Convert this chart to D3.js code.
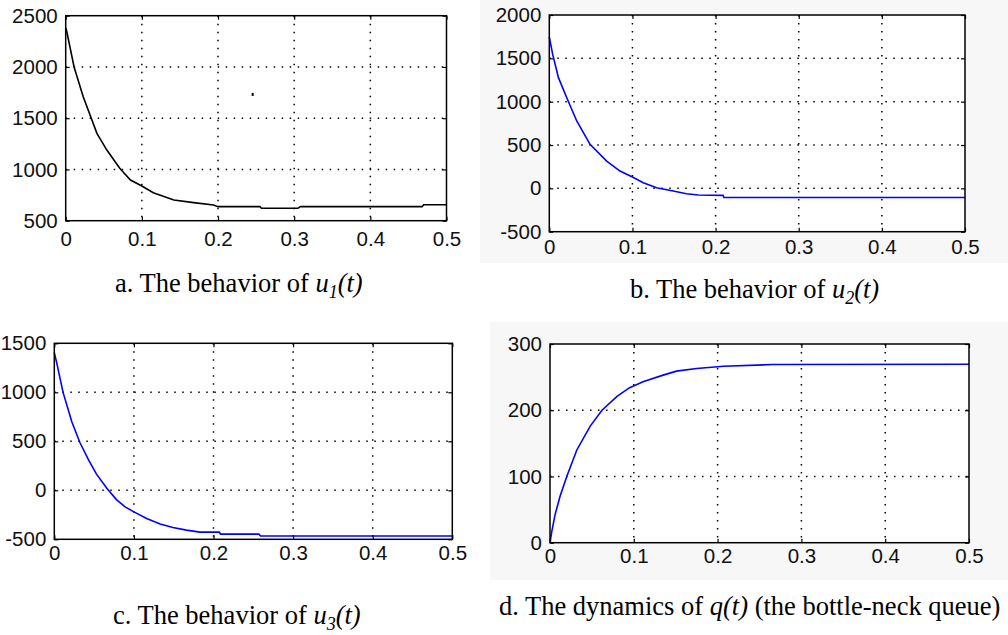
<!DOCTYPE html>
<meta charset="utf-8">
<title>Controller behaviour</title>
<style>
    body {
        margin: 0;
        background: #fff;
    }

    .axis text {
        font-family: "Liberation Sans", Arial, sans-serif;
        font-size: 20.5px;
        fill: #111;
    }

    .axis path {
        display: none;
    }

    .axis line {
        stroke: #000;
        stroke-width: 1.2;
    }

    .grid line {
        stroke: #000;
        stroke-width: 1.5;
        stroke-dasharray: 1.5, 6.5;
    }

    .caption {
        font-family: "Liberation Serif", "Times New Roman", serif;
        font-size: 26.5px;
        fill: #000;
    }
</style>

<body>
    <div id="fig"></div>
    <script src="https://d3js.org/d3.v7.min.js"></script>

    <script>
        // time ticks shared by all four panels
        var tTicks = [0, 0.1, 0.2, 0.3, 0.4, 0.5];

        // a. u1(t)
        var u1Ticks = [500, 1000, 1500, 2000, 2500];
        var u1Time = [0, 0.001, 0.011, 0.023, 0.041, 0.054, 0.071, 0.085, 0.1, 0.115, 0.142, 0.168, 0.194, 0.2, 0.255, 0.257, 0.305, 0.308, 0.468, 0.47, 0.5];
        var u1Vals = [2380, 2360, 2000, 1709, 1352, 1189, 1011, 897, 838, 773, 702, 676, 653, 637, 637, 621, 621, 637, 637, 655, 655];
        var strayDot = [0.2455, 1732];

        // b. u2(t)
        var u2Ticks = [-500, 0, 500, 1000, 1500, 2000];
        var u2Time = [0, 0.004, 0.011, 0.021, 0.033, 0.049, 0.069, 0.085, 0.1, 0.113, 0.129, 0.149, 0.165, 0.179, 0.209, 0.21, 0.5];
        var u2Vals = [1747, 1548, 1277, 1046, 777, 508, 315, 200, 131, 65, 7, -31, -62, -77, -81, -105, -105];

        // c. u3(t)
        var u3Ticks = [-500, 0, 500, 1000, 1500];
        var u3Time = [0, 0.003, 0.011, 0.022, 0.032, 0.043, 0.053, 0.066, 0.078, 0.089, 0.1, 0.116, 0.133, 0.149, 0.166, 0.183, 0.207, 0.209, 0.257, 0.259, 0.5];
        var u3Vals = [1405, 1303, 999, 700, 490, 310, 165, 20, -95, -169, -220, -288, -345, -380, -406, -427, -427, -447, -447, -467, -467];

        // d. q(t)
        var qTicks = [0, 100, 200, 300];
        var qTime = [0, 0.002, 0.006, 0.012, 0.02, 0.032, 0.048, 0.062, 0.08, 0.095, 0.111, 0.135, 0.151, 0.175, 0.207, 0.266, 0.5];
        var qVals = [0, 16, 42, 70, 100, 140, 176, 200, 221, 234, 243, 253, 259, 263, 266.5, 269, 269.5];

        var width = 1008,
            height = 635;

        var svg = d3.select('#fig')
            .append("svg")
            .attr("width", width)
            .attr("height", height);

        // light grey figure backgrounds behind b and d
        svg.append("rect").attr("x", 480).attr("y", 0).attr("width", 528).attr("height", 263).style("fill", "#f7f7f7");
        svg.append("rect").attr("x", 490).attr("y", 322).attr("width", 518).attr("height", 258).style("fill", "#f7f7f7");

        var panels = [
            { box: [65.7, 15.7, 446.5, 220.7], yTicks: u1Ticks, time: u1Time, vals: u1Vals, color: "#000", labelGap: 11 },
            { box: [549.3, 15, 965, 231.7], yTicks: u2Ticks, time: u2Time, vals: u2Vals, color: "#0000ff", labelGap: 8 },
            { box: [54.3, 343.3, 452.3, 539.3], yTicks: u3Ticks, time: u3Time, vals: u3Vals, color: "#0000ff", labelGap: 6 },
            { box: [550, 344, 969, 542.7], yTicks: qTicks, time: qTime, vals: qVals, color: "#0000ff", labelGap: 6 }
        ];

        panels.forEach(function(p, i) {
            var x0 = p.box[0], y0 = p.box[1], x1 = p.box[2], y1 = p.box[3];
            var w = x1 - x0, h = y1 - y0;

            var x = d3.scaleLinear().domain([0, 0.5]).range([0, w]);
            var y = d3.scaleLinear().domain(d3.extent(p.yTicks)).range([h, 0]);

            var g = svg.append("g").attr("transform", `translate(${x0},${y0})`);

            g.append("rect").attr("width", w).attr("height", h).style("fill", "#fff");

            // dotted grid at the inner ticks
            var grid = g.append("g").attr("class", "grid");
            grid.selectAll(".gx")
                .data(tTicks.slice(1, -1))
                .enter().append("line")
                .attr("x1", d => x(d)).attr("x2", d => x(d))
                .attr("y1", 0).attr("y2", h);
            grid.selectAll(".gy")
                .data(p.yTicks.slice(1, -1))
                .enter().append("line")
                .attr("y1", d => y(d)).attr("y2", d => y(d))
                .attr("x1", 0).attr("x2", w);

            // inward ticks on all four sides, plain hyphen for negatives
            g.append("g").attr("class", "axis")
                .attr("transform", `translate(0,${h})`)
                .call(d3.axisBottom(x).tickValues(tTicks).tickSize(-4).tickPadding(p.labelGap).tickFormat(d => String(d)));
            g.append("g").attr("class", "axis")
                .call(d3.axisLeft(y).tickValues(p.yTicks).tickSize(-4).tickPadding(8).tickFormat(d => String(d)));
            g.append("g").attr("class", "axis")
                .call(d3.axisTop(x).tickValues(tTicks).tickSize(-4).tickFormat(""));
            g.append("g").attr("class", "axis")
                .attr("transform", `translate(${w},0)`)
                .call(d3.axisRight(y).tickValues(p.yTicks).tickSize(-4).tickFormat(""));

            // the signal
            var line = d3.line()
                .x((d, j) => x(p.time[j]))
                .y(d => y(d));
            g.append("path")
                .datum(p.vals)
                .attr("d", line)
                .style("fill", "none")
                .style("stroke", p.color)
                .style("stroke-width", 1.6);

            if (i === 0) {
                g.append("rect")
                    .attr("x", x(strayDot[0]) - 1)
                    .attr("y", y(strayDot[1]) - 1.5)
                    .attr("width", 2).attr("height", 3)
                    .style("fill", "#000");
            }

            // frame
            g.append("rect").attr("width", w).attr("height", h)
                .style("fill", "none").style("stroke", "#000").style("stroke-width", 1.5);
        });

        // captions
        function caption(xp, yp, lead, fn, sub, tail) {
            var t = svg.append("text").attr("class", "caption").attr("x", xp).attr("y", yp);
            t.append("tspan").text(lead);
            t.append("tspan").style("font-style", "italic").text(fn);
            if (sub) {
                t.append("tspan").style("font-style", "italic").style("font-size", "18px").attr("dy", 6).text(sub);
                t.append("tspan").style("font-style", "italic").attr("dy", -6).text("(t)");
            } else {
                t.append("tspan").style("font-style", "italic").text("(t)");
            }
            if (tail) t.append("tspan").text(tail);
        }

        caption(115, 292, "a. The behavior of ", "u", "1", null);
        caption(630, 298, "b. The behavior of ", "u", "2", null);
        caption(113, 624, "c. The behavior of ", "u", "3", null);
        caption(499, 615, "d. The dynamics of ", "q", null, " (the bottle-neck queue)");
    </script>
</body>
